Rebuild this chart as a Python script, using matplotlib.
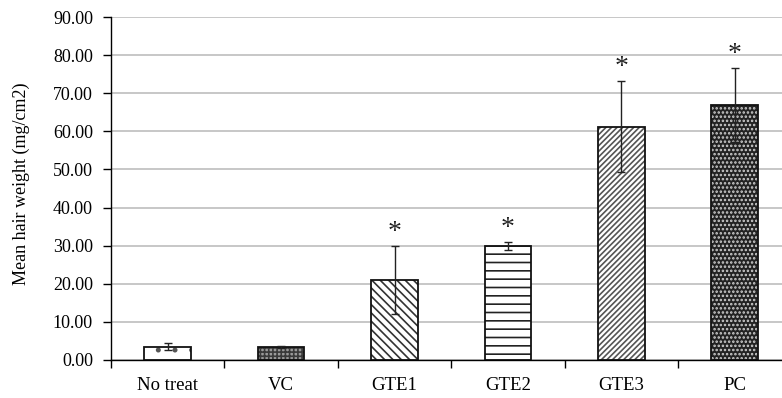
import matplotlib
matplotlib.use("Agg")
import matplotlib.pyplot as plt
import numpy as np

plt.rcParams['font.family'] = ['Liberation Serif', 'DejaVu Serif']
plt.rcParams['hatch.linewidth'] = 1.2

groups = ["No treat", "VC", "GTE1", "GTE2", "GTE3", "PC"]
means = [3.5, 3.4, 21.0, 29.9, 61.2, 66.8]
errors = [1.0, 0.2, 8.8, 1.0, 11.9, 9.7]
significant = [False, False, True, True, True, True]

faces = ["white", "#9a9a9a", "white", "white", "white", "#222222"]
hatch_colors = ["#555555", "#3a3a3a", "#333333", "#222222", "#555555", "#cfcfcf"]
hatches = [".", "++++", "\\\\\\\\", "--", "//////", "...."]

fig = plt.figure(figsize=(7.82, 3.98), dpi=100)
ax = fig.add_axes([111 / 782, 38 / 398, 6 * 113.4 / 782, 343 / 398])

x = np.arange(len(groups))
width = 0.41

for i in range(len(groups)):
    ax.bar(x[i], means[i], width, color=faces[i], edgecolor=hatch_colors[i],
           hatch=hatches[i], linewidth=0, zorder=2)
    ax.bar(x[i], means[i], width, facecolor="none", edgecolor="#111111",
           linewidth=1.3, zorder=3)

ax.errorbar(x, means, yerr=errors, fmt="none", ecolor="#222222",
            elinewidth=1.0, capsize=3, capthick=1.0, zorder=4)

for i in range(len(groups)):
    if significant[i]:
        ax.text(x[i], means[i] + errors[i] + 0.3, "*", ha="center", va="bottom",
                fontsize=20, color="#222222")

ax.set_ylim(0, 90)
ax.set_xlim(-0.5, len(groups) - 0.5)
ax.set_yticks(np.arange(0, 91, 10))
ax.set_yticklabels([f"{v:.2f}" for v in np.arange(0, 91, 10)], fontsize=13)
ax.set_xticks(x)
ax.set_xticklabels(groups, fontsize=13.5)
ax.tick_params(axis="x", length=0, pad=12)
ax.set_xticks(np.arange(-0.5, len(groups), 1.0), minor=True)
ax.tick_params(axis="x", which="minor", length=6, width=1, direction="out")
ax.tick_params(axis="y", length=5.5, width=1, direction="out", pad=7.5)

ax.yaxis.grid(True, color="#bdbdbd", linewidth=1.2, zorder=0)
ax.set_axisbelow(True)
for s in ["top", "right"]:
    ax.spines[s].set_visible(False)
ax.spines["left"].set_linewidth(1.0)
ax.spines["bottom"].set_linewidth(1.0)

ax.set_ylabel("Mean hair weight (mg/cm2)", fontsize=13)
ax.yaxis.set_label_coords(-0.119, 0.515)

fig.savefig("out.png", dpi=100)
